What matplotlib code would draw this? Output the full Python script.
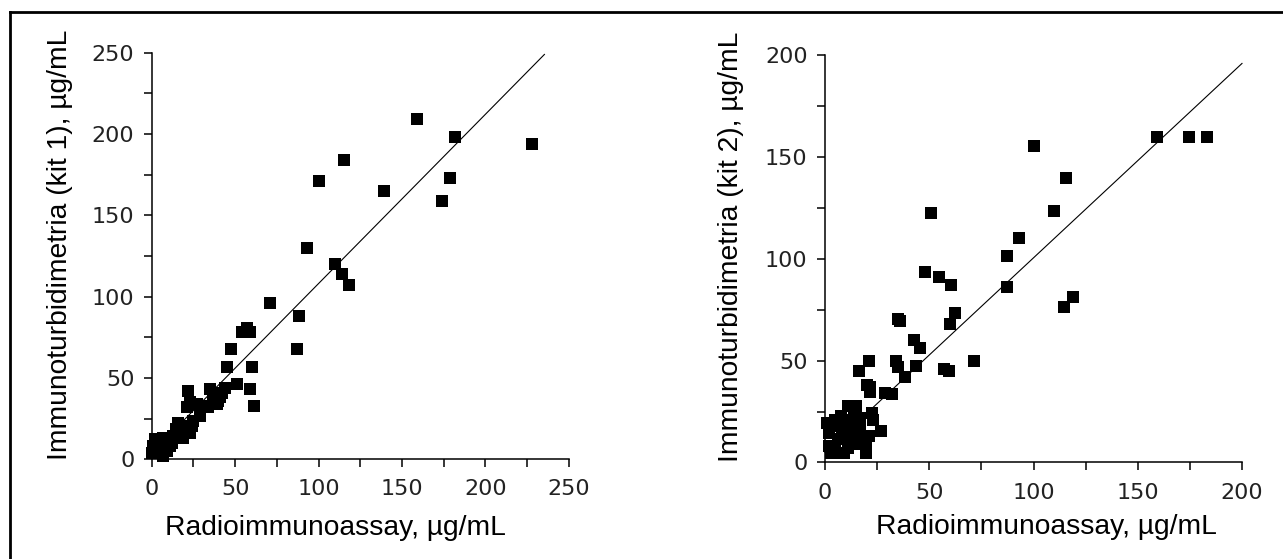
import matplotlib
matplotlib.use("Agg")
import matplotlib.pyplot as plt
from matplotlib.lines import Line2D
from matplotlib.ticker import MultipleLocator

# ---- data: kit 1 (left) ----
kit1_ria = [159, 182, 228, 115, 100, 139, 179, 174, 93, 110, 114, 118, 71, 88, 87,
            57, 54, 59, 47.5, 45, 60, 51, 59, 61.5, 44, 22, 35, 41, 39, 34, 23, 21,
            27, 31, 37, 40, 42, 29, 25, 23, 23, 19, 16, 17, 14.5, 13, 11, 9, 5, 7,
            2, 1, 3, 0, 7, 9, 11, 5, 21.5, 24, 18.6, 6.9, 15, 12, 4, 8]
kit1_it = [209, 198, 194, 184, 171, 165, 173, 159, 130, 120, 114, 107, 96, 88, 68,
           81, 78, 78, 68, 57, 57, 46, 43, 33, 44, 42, 43, 38, 34, 32, 35, 32,
           34, 33, 39, 36, 41, 26.5, 23.5, 20.4, 16, 20.4, 22.5, 17.4, 18.4, 14.3, 12.3,
           10.2, 12.3, 13.3, 12.3, 8, 6, 4, 2, 5, 8, 7, 16, 20.4, 13, 1.8, 15, 10, 9, 11]
kit1_fit_x = [0, 235.5]
kit1_fit_y = [4, 249]

# ---- data: kit 2 (right) ----
kit2_ria = [159, 174.4, 183.3, 100.4, 115.4, 109.8, 51, 92.9, 87.4, 48, 54.5, 60.4,
            87.4, 119.1, 114.4, 35, 36, 62.2, 60, 42.5, 45.5, 71.5, 20.9, 34, 43.5,
            34.8, 57.3, 59.6, 16.3, 38.6, 20.3, 21.7, 21.5, 28.7, 32, 26.8,
            11, 15, 22.5, 23, 19.5, 19.5, 21, 5, 7.5, 9, 14, 17, 15.5, 14, 2, 2, 3,
            7.5, 11, 6, 11, 3.5, 12, 1, 9, 17, 13, 8, 5, 16]
kit2_it = [160, 160, 160, 155.3, 139.8, 123.5, 122.6, 110.2, 101.4, 93.5, 90.9, 87,
           86, 81.4, 76.5, 70.4, 69.5, 73.6, 67.8, 59.9, 56.4, 49.7, 49.7, 49.7, 47.6,
           46.8, 45.9, 44.8, 45, 42, 38, 36.8, 34.5, 34.2, 33.6, 15.2,
           27.8, 27.8, 24.5, 21, 4.7, 8.8, 13, 21, 22.6, 17.7, 24.2, 17.7, 13.6, 8.8,
           14.5, 8, 4.7, 4.7, 7.2, 11.3, 12.2, 17.7, 21, 19.3, 4.7, 22, 16, 14, 8, 10]
kit2_fit_x = [0, 200]
kit2_fit_y = [5, 196]

x_label = "Radioimmunoassay, µg/mL"
y_label1 = "Immunoturbidimetria (kit 1), µg/mL"
y_label2 = "Immunoturbidimetria (kit 2), µg/mL"

W, H = 1283, 559
fig = plt.figure(figsize=(W / 100, H / 100), dpi=100)
fig.patch.set_facecolor("white")

def px_axes(x0, x1, ytop, ybot):
    return fig.add_axes([x0 / W, 1 - ybot / H, (x1 - x0) / W, (ybot - ytop) / H])

ax1 = px_axes(151.8, 568.6, 52.8, 459.2)
ax2 = px_axes(825.0, 1242.0, 55.3, 462.4)

label_font = ["Liberation Sans", "DejaVu Sans"]

for ax, xs, ys, fx, fy, lim in [
    (ax1, kit1_ria, kit1_it, kit1_fit_x, kit1_fit_y, 250),
    (ax2, kit2_ria, kit2_it, kit2_fit_x, kit2_fit_y, 200),
]:
    ax.plot(fx, fy, color="black", lw=0.8, zorder=2, clip_on=False)
    ax.scatter(xs, ys, marker="s", s=70, color="black", linewidths=0,
               zorder=3, clip_on=False)
    ax.set_xlim(0, lim)
    ax.set_ylim(0, lim)
    ax.xaxis.set_major_locator(MultipleLocator(50))
    ax.yaxis.set_major_locator(MultipleLocator(50))
    ax.xaxis.set_minor_locator(MultipleLocator(25))
    ax.yaxis.set_minor_locator(MultipleLocator(25))
    for s in ["top", "right"]:
        ax.spines[s].set_visible(False)
    for s in ["left", "bottom"]:
        ax.spines[s].set_linewidth(1.1)
    ax.tick_params(which="both", direction="out", length=5.5, width=1.1,
                   color="black")
    ax.tick_params(axis="x", pad=9)
    ax.tick_params(axis="y", pad=7)
    for lab in ax.get_xticklabels() + ax.get_yticklabels():
        lab.set_fontfamily("DejaVu Sans")
        lab.set_fontsize(16)
        lab.set_color("#222222")
    ax.set_facecolor("white")

# axis labels placed in figure pixels
fig.text(335.5 / W, 1 - 535 / H, x_label, ha="center", va="baseline",
         family=label_font, fontsize=20.3)
fig.text(1046 / W, 1 - 534 / H, x_label, ha="center", va="baseline",
         family=label_font, fontsize=20.3)
fig.text(60 / W, 1 - 245 / H, y_label1, ha="center", va="center", rotation=90,
         family=label_font, fontsize=20.3)
fig.text(731 / W, 1 - 246.5 / H, y_label2, ha="center", va="center", rotation=90,
         family=label_font, fontsize=20.3)

# partial frame (top and left lines)
fig.add_artist(Line2D([10 / W, 1.0], [1 - 12 / H, 1 - 12 / H], color="black",
                      lw=2.0, transform=fig.transFigure))
fig.add_artist(Line2D([10 / W, 10 / W], [1 - 12 / H, 0.0], color="black",
                      lw=2.0, transform=fig.transFigure))

fig.savefig("out.png", dpi=100, facecolor="white")
